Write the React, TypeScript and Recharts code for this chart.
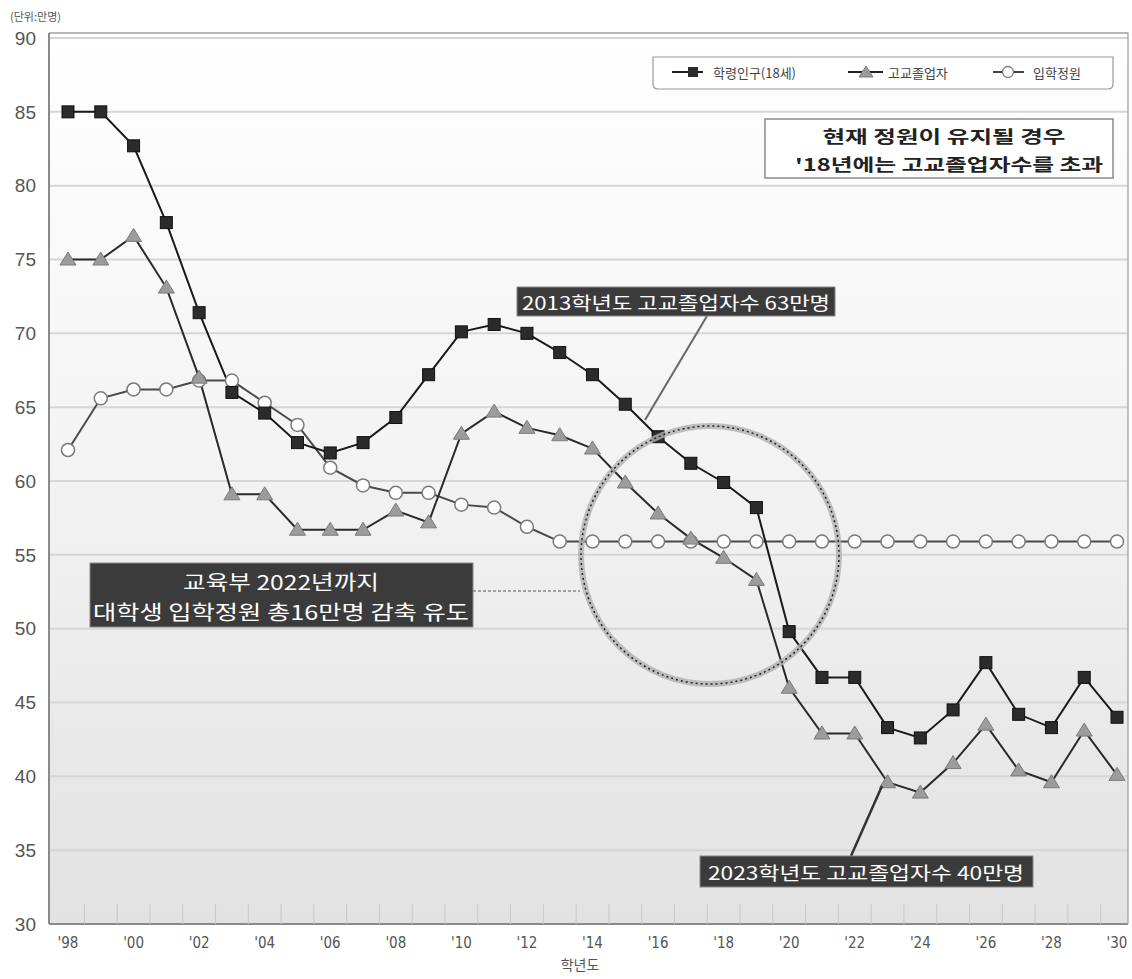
import React from "react";
import { CartesianGrid, Line, LineChart, XAxis, YAxis } from "recharts";

// 학년도 (1998 ~ 2030)
const years = [
	1998, 1999, 2000, 2001, 2002, 2003, 2004, 2005, 2006, 2007, 2008, 2009, 2010,
	2011, 2012, 2013, 2014, 2015, 2016, 2017, 2018, 2019, 2020, 2021, 2022, 2023,
	2024, 2025, 2026, 2027, 2028, 2029, 2030,
];

// 단위: 만명
const schoolAgePop = [
	85.0, 85.0, 82.7, 77.5, 71.4, 66.0, 64.6, 62.6, 61.9, 62.6, 64.3, 67.2, 70.1,
	70.6, 70.0, 68.7, 67.2, 65.2, 63.0, 61.2, 59.9, 58.2, 49.8, 46.7, 46.7, 43.3,
	42.6, 44.5, 47.7, 44.2, 43.3, 46.7, 44.0,
];
const graduates = [
	75.0, 75.0, 76.6, 73.1, 67.0, 59.1, 59.1, 56.7, 56.7, 56.7, 58.0, 57.2, 63.2,
	64.7, 63.6, 63.1, 62.2, 59.9, 57.8, 56.1, 54.8, 53.3, 46.0, 42.9, 42.9, 39.6,
	38.9, 40.9, 43.5, 40.4, 39.6, 43.1, 40.1,
];
const admissionQuota = [
	62.1, 65.6, 66.2, 66.2, 66.8, 66.8, 65.3, 63.8, 60.9, 59.7, 59.2, 59.2, 58.4,
	58.2, 56.9, 55.9, 55.9, 55.9, 55.9, 55.9, 55.9, 55.9, 55.9, 55.9, 55.9, 55.9,
	55.9, 55.9, 55.9, 55.9, 55.9, 55.9, 55.9,
];

const yTicks = [30, 35, 40, 45, 50, 55, 60, 65, 70, 75, 80, 85, 90];
const seriesNames = ["학령인구(18세)", "고교졸업자", "입학정원"];

const data = years.map((year, i) => ({
	year,
	schoolAgePop: schoolAgePop[i],
	graduates: graduates[i],
	admissionQuota: admissionQuota[i],
}));

// year ticks plus in-between ticks (category boundaries)
const xTicks = [...years, ...years.slice(0, -1).map((y) => y + 0.5)].sort(
	(a, b) => a - b,
);

const KR = "'Noto Sans CJK KR', 'Noto Sans', sans-serif";

const XTick = (props: any) => {
	const { x, y, payload } = props;
	const v = payload.value as number;
	if (!Number.isInteger(v)) {
		return <line x1={x} x2={x} y1={y} y2={y - 20} stroke="#c8c8c8" />;
	}
	if (v % 2 !== 0) return <g />;
	return (
		<text
			x={x}
			y={y + 24}
			textAnchor="middle"
			fontSize={15}
			fill="#555"
			fontFamily="'Liberation Sans Narrow', 'DejaVu Sans Condensed', sans-serif"
		>
			{`'${String(v).slice(2)}`}
		</text>
	);
};

const SquareDot = (props: any) => {
	const { cx, cy, index } = props;
	return (
		<rect
			key={`sq-${index}`}
			x={cx - 6}
			y={cy - 6}
			width={12}
			height={12}
			fill="#2b2b2b"
			stroke="#111"
			strokeWidth={1}
		/>
	);
};

const TriangleDot = (props: any) => {
	const { cx, cy, index } = props;
	return (
		<polygon
			key={`tr-${index}`}
			points={`${cx},${cy - 7.5} ${cx - 8},${cy + 5.5} ${cx + 8},${cy + 5.5}`}
			fill="#9c9c9c"
			stroke="#7a7a7a"
			strokeWidth={1}
		/>
	);
};

const CircleDot = (props: any) => {
	const { cx, cy, index } = props;
	return (
		<circle
			key={`ci-${index}`}
			cx={cx}
			cy={cy}
			r={6.5}
			fill="#fff"
			stroke="#7a7a7a"
			strokeWidth={1.5}
		/>
	);
};

const DarkBox = ({
	x,
	y,
	w,
	h,
	lines,
	fontSize,
}: {
	x: number;
	y: number;
	w: number;
	h: number;
	lines: { text: string; cx: number; cy: number; len: number }[];
	fontSize: number;
}) => (
	<g>
		<rect x={x} y={y} width={w} height={h} fill="#3b3b3b" stroke="#888" strokeWidth={1} />
		{lines.map((l) => (
			<text
				key={l.text}
				x={l.cx}
				y={l.cy}
				textAnchor="middle"
				dominantBaseline="central"
				fill="#fff"
				fontSize={fontSize}
				fontFamily={KR}
				textLength={l.len}
				lengthAdjust="spacingAndGlyphs"
			>
				{l.text}
			</text>
		))}
	</g>
);

export default function App() {
	return (
		<div
			style={{
				position: "absolute",
				left: 0,
				top: 0,
				width: 1132,
				height: 979,
				background: "#fff",
				fontFamily: KR,
			}}
		>
			<LineChart
				width={1132}
				height={979}
				data={data}
				margin={{ top: 33, right: 4, left: 9, bottom: 0 }}
			>
				<defs>
					<linearGradient id="plotBg" x1="0" y1="0" x2="0" y2="1">
						<stop offset="0%" stopColor="#ffffff" />
						<stop offset="45%" stopColor="#f4f4f4" />
						<stop offset="100%" stopColor="#e2e2e2" />
					</linearGradient>
				</defs>
				<CartesianGrid
					vertical={false}
					stroke="#d6d6d6"
					strokeWidth={2}
					fill="url(#plotBg)"
				/>
				<XAxis
					dataKey="year"
					type="number"
					domain={[1998, 2030]}
					ticks={xTicks}
					interval={0}
					padding={{ left: 19, right: 11 }}
					height={55}
					tickLine={false}
					tickSize={0}
					tickMargin={0}
					tick={<XTick />}
					axisLine={{ stroke: "#8a8a8a", strokeWidth: 2 }}
				/>
				<YAxis
					type="number"
					domain={[30, 90.34]}
					ticks={yTicks}
					interval={0}
					width={40}
					tickLine={false}
					tickSize={0}
					tickMargin={13}
					axisLine={{ stroke: "#8a8a8a", strokeWidth: 2 }}
					tick={{
						fontSize: 19,
						fill: "#555",
						fontFamily: "'Liberation Sans', Arial, sans-serif",
					}}
				/>
				<Line
					dataKey="admissionQuota"
					name={seriesNames[2]}
					stroke="#4a4a4a"
					strokeWidth={2}
					dot={(p: any) => <CircleDot key={`c${p.index}`} {...p} />}
					isAnimationActive={false}
				/>
				<Line
					dataKey="graduates"
					name={seriesNames[1]}
					stroke="#2a2a2a"
					strokeWidth={2}
					dot={(p: any) => <TriangleDot key={`t${p.index}`} {...p} />}
					isAnimationActive={false}
				/>
				<Line
					dataKey="schoolAgePop"
					name={seriesNames[0]}
					stroke="#1a1a1a"
					strokeWidth={2}
					dot={(p: any) => <SquareDot key={`s${p.index}`} {...p} />}
					isAnimationActive={false}
				/>
			</LineChart>

			<svg
				width={1132}
				height={979}
				style={{ position: "absolute", left: 0, top: 0, pointerEvents: "none" }}
			>
				{/* plot frame (top / right) */}
				<path d="M49 33 H1128 V924" fill="none" stroke="#9a9a9a" strokeWidth={1.2} />

				{/* unit label */}
				<text x={10} y={21} fontSize={11} fill="#555" fontFamily={KR}>
					(단위:만명)
				</text>
				{/* x-axis title */}
				<text
					x={580}
					y={970}
					textAnchor="middle"
					fontSize={14}
					fill="#555"
					fontFamily={KR}
				>
					학년도
				</text>

				{/* legend */}
				<path
					d="M653 57 H1113 V84 Q1113 89 1108 89 H658 Q653 89 653 84 Z"
					fill="#fff"
					stroke="#9a9a9a"
					strokeWidth={1.2}
				/>
				<line x1={672} x2={703} y1={72} y2={72} stroke="#222" strokeWidth={2} />
				<rect x={688} y={67} width={10} height={10} fill="#2b2b2b" />
				<text x={713} y={72} dominantBaseline="central" fontSize={13} fill="#444" fontFamily={KR}>
					{seriesNames[0]}
				</text>
				<line x1={848} x2={883} y1={72} y2={72} stroke="#222" strokeWidth={2} />
				<polygon points="866,66 859,77 873,77" fill="#9c9c9c" stroke="#7a7a7a" />
				<text x={888} y={72} dominantBaseline="central" fontSize={13} fill="#444" fontFamily={KR}>
					{seriesNames[1]}
				</text>
				<line x1={993} x2={1024} y1={72} y2={72} stroke="#444" strokeWidth={2} />
				<circle cx={1008} cy={72} r={5.5} fill="#fff" stroke="#777" strokeWidth={1.3} />
				<text x={1033} y={72} dominantBaseline="central" fontSize={13} fill="#444" fontFamily={KR}>
					{seriesNames[2]}
				</text>

				{/* note box */}
				<rect x={765} y={119} width={348} height={59} fill="#fff" stroke="#8a8a8a" strokeWidth={1.5} />
				<text
					x={944}
					y={135}
					textAnchor="middle"
					dominantBaseline="central"
					fontSize={17}
					fontWeight={700}
					fill="#222"
					fontFamily={KR}
					textLength={243}
					lengthAdjust="spacingAndGlyphs"
				>
					현재 정원이 유지될 경우
				</text>
				<text
					x={949}
					y={163}
					textAnchor="middle"
					dominantBaseline="central"
					fontSize={17}
					fontWeight={700}
					fill="#222"
					fontFamily={KR}
					textLength={308}
					lengthAdjust="spacingAndGlyphs"
				>
					'18년에는 고교졸업자수를 초과
				</text>

				{/* dashed circle */}
				<circle cx={710} cy={555} r={129} fill="none" stroke="#b0b0b0" strokeWidth={6} opacity={0.8} />
				<circle
					cx={710}
					cy={555}
					r={129}
					fill="none"
					stroke="#222"
					strokeWidth={1.5}
					strokeDasharray="2 3"
				/>

				{/* leaders */}
				<line x1={707} y1={316} x2={645} y2={420} stroke="#666" strokeWidth={2} />
				<line x1={851} y1={856} x2={882} y2={786} stroke="#333" strokeWidth={2.5} />
				<line
					x1={473}
					y1={591}
					x2={580}
					y2={591}
					stroke="#888"
					strokeWidth={1.5}
					strokeDasharray="3 2"
				/>

				<DarkBox
					x={517}
					y={287}
					w={318}
					h={29}
					fontSize={18}
					lines={[{ text: "2013학년도 고교졸업자수 63만명", cx: 676, cy: 302, len: 308 }]}
				/>
				<DarkBox
					x={90}
					y={563}
					w={383}
					h={64}
					fontSize={20}
					lines={[
						{ text: "교육부 2022년까지", cx: 281, cy: 581, len: 196 },
						{ text: "대학생 입학정원 총16만명 감축 유도", cx: 281, cy: 611, len: 376 },
					]}
				/>
				<DarkBox
					x={700}
					y={856}
					w={333}
					h={31}
					fontSize={18}
					lines={[{ text: "2023학년도 고교졸업자수 40만명", cx: 866, cy: 872, len: 316 }]}
				/>
			</svg>
		</div>
	);
}
